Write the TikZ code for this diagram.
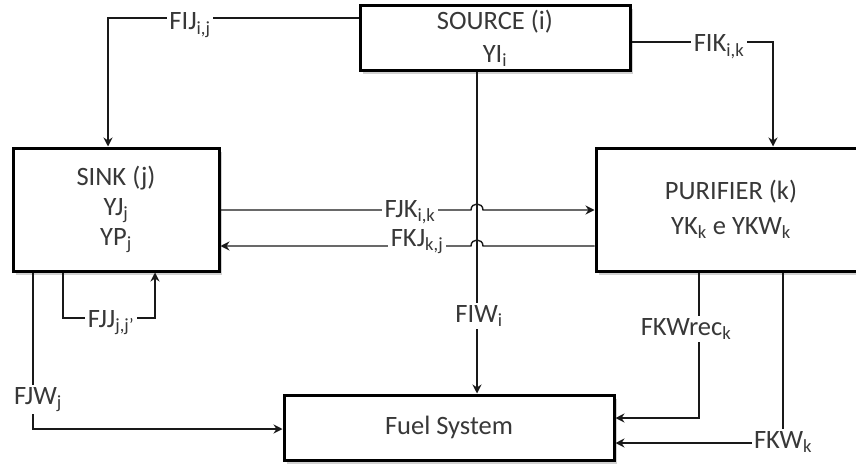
\documentclass[tikz,border=0pt]{standalone}
\usepackage{fontspec}
\setmainfont{Carlito}
\usetikzlibrary{arrows.meta,shadows}
\definecolor{txt}{HTML}{383838}
\newcommand{\sbs}[1]{\textsubscript{#1}}
\tikzset{
  box/.style={draw=black, line width=3pt, fill=white, text=txt, align=center,
    inner sep=0pt, font=\fontsize{26.5}{33}\selectfont,
    drop shadow={shadow xshift=3pt, shadow yshift=-3.5pt, opacity=0.3, fill=black!60}},
  flow/.style={line width=1.4pt, draw=black!90},
  arr/.style={flow, -{Stealth[length=9pt,width=9pt]}},
  lbl/.style={fill=white, text=txt, inner sep=2.5pt, anchor=base, font=\fontsize{26.5}{30}\selectfont},
}
\begin{document}
\begin{tikzpicture}[x=1pt,y=-1pt]
\useasboundingbox (0,0) rectangle (856,468);
\clip (0,0) rectangle (856,468);
% boxes
\node[box, minimum width=270pt, minimum height=65pt] (source) at (495,38.5) {SOURCE (i)\\YI\sbs{i}};
\node[box, minimum width=206pt, minimum height=123pt, font=\fontsize{26.5}{30}\selectfont] (sink) at (116,209.5) {SINK (j)\\YJ\sbs{j}\\YP\sbs{j}};
\node[box, minimum width=270pt, minimum height=123pt, font=\fontsize{26.5}{35}\selectfont] (purifier) at (731,209.5) {PURIFIER (k)\\YK\sbs{k} e YKW\sbs{k}};
\node[box, minimum width=330pt, minimum height=65pt] (fuel) at (449,427.5) {Fuel System};
% bend coordinates
\coordinate (fij) at (108,18);
\coordinate (fik) at (773,42);
\coordinate (fiw) at (477,0);
\coordinate (fjk) at (0,210);
\coordinate (fkj) at (0,246);
\coordinate (fjja) at (63,318);
\coordinate (fjjb) at (155,318);
\coordinate (fjw) at (33,429);
\coordinate (fkwr) at (699,418);
\coordinate (fkw) at (783,443);
% connectors
\draw[arr] (source.west |- fij) -- (fij) -- (sink.north -| fij);
\draw[arr] (source.east |- fik) -- (fik) -- (purifier.north -| fik);
\draw[arr] (source.south -| fiw) -- (fuel.north -| fiw);
\draw[arr] (sink.east |- fjk) -- (471,210) .. controls (471,202) and (483,202) .. (483,210) -- (purifier.west |- fjk);
\draw[arr] (purifier.west |- fkj) -- (483,246) .. controls (483,238) and (471,238) .. (471,246) -- (sink.east |- fkj);
\draw[arr] (sink.south -| fjja) -- (fjja) -- (fjjb) -- (sink.south -| fjjb);
\draw[arr] (sink.south -| fjw) -- (fjw) -- (fuel.west |- fjw);
\draw[arr] (purifier.south -| fkwr) -- (fkwr) -- (fuel.east |- fkwr);
\draw[arr] (purifier.south -| fkw) -- (fkw) -- (fuel.east |- fkw);
% labels
\node[lbl] (lfij) at (190,30) {FIJ\sbs{i,j}};
\node[lbl] (lfik) at (719,52) {FIK\sbs{i,k}};
\node[lbl] (lfjk) at (410,217) {FJK\sbs{i,k}};
\node[lbl] (lfkj) at (417,246) {FKJ\sbs{k,j}};
\node[lbl] (lfjj) at (111,327) {FJJ\sbs{j,j'}};
\node[lbl] (lfjw) at (38,404) {FJW\sbs{j}};
\node[lbl] (lfiw) at (479,322) {FIW\sbs{i}};
\node[lbl] (lfkwr) at (686,335) {FKWrec\sbs{k}};
\node[lbl] (lfkw) at (783,448) {FKW\sbs{k}};
\end{tikzpicture}
\end{document}
